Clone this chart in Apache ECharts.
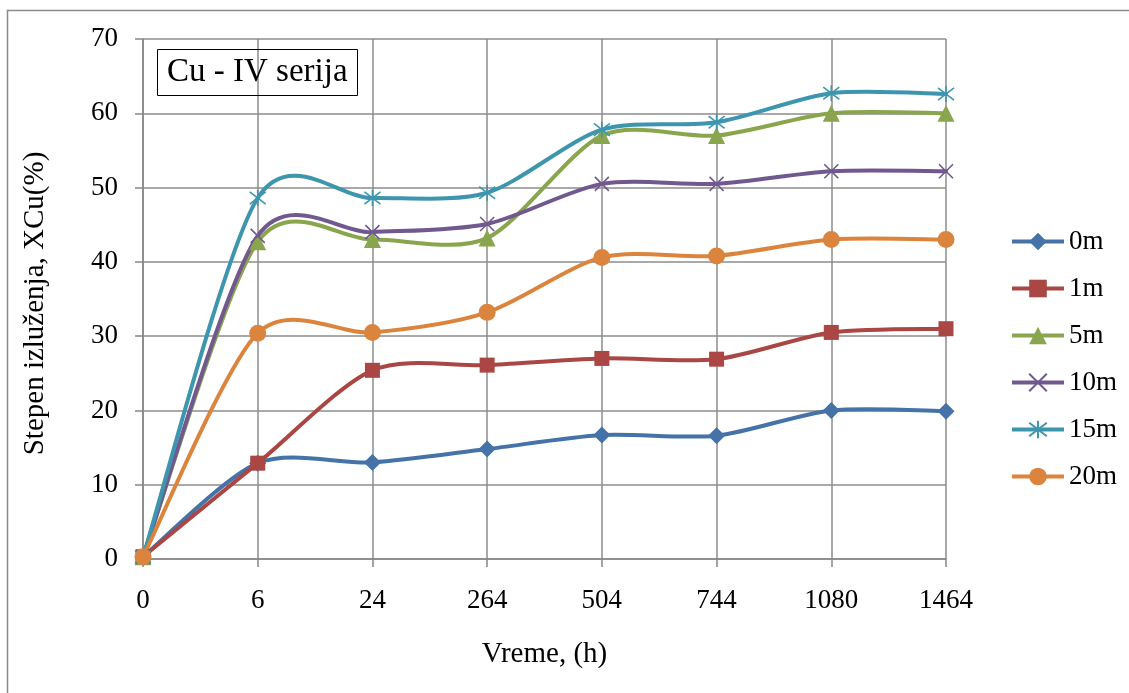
<!DOCTYPE html>
<html>
<head>
<meta charset="utf-8">
<script src="https://cdn.jsdelivr.net/npm/echarts@6/dist/echarts.min.js"></script>
<style>
html,body{margin:0;padding:0;background:#fff;}
#main{width:1129px;height:693px;}
</style>
</head>
<body>
<div id="main"></div>
<script>
const categories = ['0', '6', '24', '264', '504', '744', '1080', '1464'];
const seriesNames = ['0m', '1m', '5m', '10m', '15m', '20m'];
const s0m  = [0.3, 12.9, 13.0, 14.8, 16.7, 16.6, 20.0, 19.9];
const s1m  = [0.3, 12.9, 25.4, 26.1, 27.0, 26.9, 30.5, 31.0];
const s5m  = [0.3, 42.7, 43.0, 43.2, 57.0, 57.0, 60.0, 60.0];
const s10m = [0.3, 43.5, 44.0, 45.1, 50.5, 50.5, 52.2, 52.2];
const s15m = [0.3, 48.6, 48.6, 49.3, 57.8, 58.8, 62.7, 62.6];
const s20m = [0.3, 30.4, 30.5, 33.2, 40.6, 40.8, 43.0, 43.0];
const yTicks = [0, 10, 20, 30, 40, 50, 60, 70];
const titleText = 'Cu - IV serija';
const xName = 'Vreme, (h)';
const yName = 'Stepen izluženja, XCu(%)';

const dataList = [s0m, s1m, s5m, s10m, s15m, s20m];
const colors = ['#4572A7', '#AA4643', '#89A54E', '#71588F', '#3D96AE', '#DB843D'];
const symbols = [
  'diamond',
  'rect',
  'triangle',
  'path://M0,0L10,10M10,0L0,10',
  'path://M0,0L10,10M10,0L0,10M5,-1.5L5,11.5',
  'circle'
];
const symbolSizes = [17, 15, 17, 14, 16, 17];
const font = "'Liberation Serif', 'Times New Roman', serif";
const LW = 4;
const TENSION = 0.14; // Excel-like cardinal spline factor

const chart = echarts.init(document.getElementById('main'), null, {renderer: 'canvas'});

// smooth curves, drawn through the library's coordinate system
const curveSeries = dataList.map((arr, i) => ({
  type: 'custom',
  name: '_curve' + i,
  data: arr.map((v, k) => [k, v]),
  encode: {x: 0, y: 1},
  z: 2,
  silent: true,
  renderItem: (params, api) => {
    if (params.dataIndex !== 0) return null;
    const p = arr.map((v, k) => api.coord([k, v]));
    const n = p.length;
    let d = 'M' + p[0][0] + ',' + p[0][1];
    for (let k = 0; k < n - 1; k++) {
      const a = p[Math.max(k - 1, 0)], b = p[k], c = p[k + 1], e = p[Math.min(k + 2, n - 1)];
      const c1x = b[0] + (c[0] - a[0]) * TENSION, c1y = b[1] + (c[1] - a[1]) * TENSION;
      const c2x = c[0] - (e[0] - b[0]) * TENSION, c2y = c[1] - (e[1] - b[1]) * TENSION;
      d += 'C' + c1x + ',' + c1y + ',' + c2x + ',' + c2y + ',' + c[0] + ',' + c[1];
    }
    return {
      type: 'path',
      shape: {pathData: d},
      style: {fill: 'none', stroke: colors[i], lineWidth: LW, lineJoin: 'round', lineCap: 'round'}
    };
  }
}));

const markerSeries = seriesNames.map((n, i) => {
  const isStroke = i === 3 || i === 4;
  return {
    name: n,
    type: 'line',
    data: dataList[i],
    symbol: symbols[i],
    symbolSize: symbolSizes[i],
    lineStyle: {color: colors[i], width: LW, opacity: 0},
    itemStyle: isStroke ? {color: 'rgba(0,0,0,0)', borderColor: colors[i], borderWidth: 1.6}
                        : {color: colors[i], borderWidth: 0},
    emphasis: {disabled: true},
    z: 3 + i
  };
});

chart.setOption({
  animation: false,
  backgroundColor: '#fff',
  color: colors,
  title: {
    text: titleText,
    left: 157, top: 49,
    padding: [7, 10, 7, 10],
    borderColor: '#000', borderWidth: 1,
    textStyle: {fontFamily: font, fontSize: 33, fontWeight: 'normal', color: '#000', lineHeight: 33}
  },
  grid: {left: 143, right: 183, top: 39, bottom: 134, containLabel: false},
  legend: {
    orient: 'vertical',
    left: 1005, top: 223,
    itemWidth: 52, itemHeight: 22,
    itemGap: 20,
    data: seriesNames.map((n, i) => ({name: n, lineStyle: {opacity: 1, width: LW, color: colors[i]}})),
    textStyle: {fontFamily: font, fontSize: 27, color: '#000'}
  },
  xAxis: {
    type: 'category',
    data: categories,
    boundaryGap: false,
    name: xName,
    nameLocation: 'middle',
    nameGap: 81,
    nameTextStyle: {fontFamily: font, fontSize: 29, color: '#000'},
    axisLine: {lineStyle: {color: '#868686', width: 1.5}},
    axisTick: {show: true, alignWithLabel: true, length: 8, lineStyle: {color: '#868686', width: 1.5}},
    axisLabel: {fontFamily: font, fontSize: 27, color: '#000', margin: 28},
    splitLine: {show: true, lineStyle: {color: '#8c8c8c', width: 1.5}}
  },
  yAxis: {
    type: 'value',
    min: yTicks[0], max: yTicks[yTicks.length - 1], interval: 10,
    name: yName,
    nameLocation: 'middle',
    nameGap: 93,
    nameTextStyle: {fontFamily: font, fontSize: 29, color: '#000', padding: [0, 9, 0, 0]},
    axisLine: {show: true, lineStyle: {color: '#868686', width: 1.5}},
    axisTick: {show: true, length: 8, lineStyle: {color: '#868686', width: 1.5}},
    axisLabel: {fontFamily: font, fontSize: 27, color: '#000', margin: 25},
    splitLine: {show: true, lineStyle: {color: '#8c8c8c', width: 1.5}}
  },
  graphic: [{
    type: 'rect',
    shape: {x: 7.5, y: 10.5, width: 1200, height: 800},
    style: {fill: 'none', stroke: '#8a8a8a', lineWidth: 1.5},
    silent: true
  }],
  series: curveSeries.concat(markerSeries)
});
</script>
</body>
</html>
